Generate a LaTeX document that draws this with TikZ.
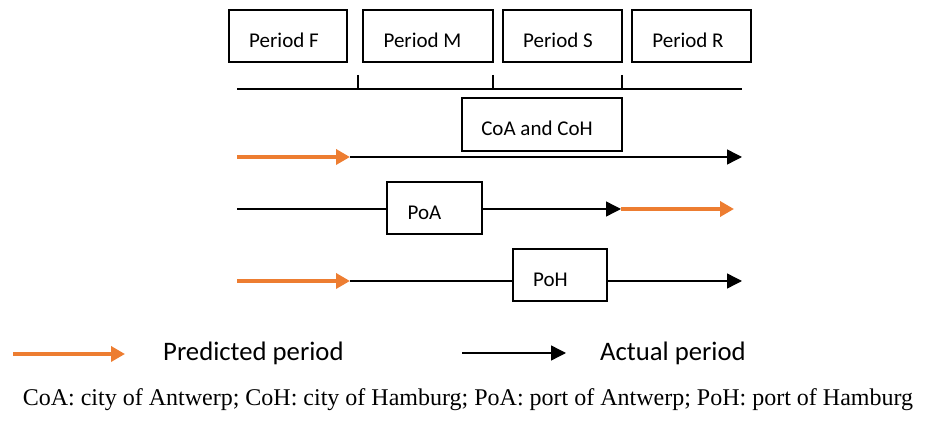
\documentclass[tikz,border=0pt]{standalone}
\usepackage{fontspec}
\setmainfont{Carlito}
\newfontfamily\notefont{Liberation Serif}
\usetikzlibrary{arrows.meta}
\definecolor{predorange}{HTML}{ED7D31}
\begin{document}
\begin{tikzpicture}[x=1pt,y=-1pt,
  box/.style={draw,line width=1.5pt,inner sep=0pt,minimum height=52pt},
  boxtext/.style={anchor=base,inner sep=0pt,font=\fontsize{21}{24}\selectfont},
  act/.style={line width=1.4pt,-{Triangle[length=15pt,width=15pt]}},
  plain/.style={line width=1.4pt},
  pred/.style={draw=predorange,line width=3.5pt,-{Triangle[length=14pt,width=15pt]}},
  lgtext/.style={anchor=west,inner sep=0pt,font=\fontsize{26.7}{30}\selectfont}]
  \useasboundingbox (0,0) rectangle (938,430);

  \node[box,minimum width=118pt] (pF) at (288,36) {};
  \node[boxtext] (pFtxt) at (284,48) {Period F};
  \node[box,minimum width=130pt] (pM) at (428,36) {};
  \node[boxtext] (pMtxt) at (422.5,48) {Period M};
  \node[box,minimum width=119pt] (pS) at (562.5,36) {};
  \node[boxtext] (pStxt) at (558,48) {Period S};
  \node[box,minimum width=119pt] (pR) at (691.5,36) {};
  \node[boxtext] (pRtxt) at (688,48) {Period R};

  \coordinate (tl0) at (237,89);
  \coordinate (tl1) at (742,89);
  \coordinate (k1) at (358,75);
  \coordinate (k2) at (493,75);
  \coordinate (k3) at (622,75);
  \draw[plain] (tl0) -- (tl1);
  \draw[plain] (k1) -- (k1 |- tl0);
  \draw[plain] (k2) -- (k2 |- tl0);
  \draw[plain] (k3) -- (k3 |- tl0);

  \node[box,minimum width=160pt,minimum height=53pt] (coa) at (542,124.5) {};
  \node[boxtext] (coatxt) at (537,136) {CoA and CoH};
  \coordinate (r1a) at (237,157);
  \coordinate (r1b) at (350,157);
  \coordinate (r1c) at (742,157);
  \draw[pred] (r1a) -- (r1b);
  \draw[act] (r1b) -- (r1c);

  \node[box,minimum width=95pt] (poa) at (434.5,208) {};
  \node[boxtext] (poatxt) at (424.5,220) {PoA};
  \coordinate (r2a) at (237,209);
  \coordinate (r2c) at (621,209);
  \coordinate (r2d) at (734,209);
  \draw[plain] (r2a) -- (r2a -| poa.west);
  \draw[act] (r2a -| poa.east) -- (r2c);
  \draw[pred] (r2c) -- (r2d);

  \node[box,minimum width=94pt] (poh) at (560,275) {};
  \node[boxtext] (pohtxt) at (550.5,287) {PoH};
  \coordinate (r3a) at (237,281);
  \coordinate (r3b) at (350,281);
  \coordinate (r3c) at (742,281);
  \draw[pred] (r3a) -- (r3b);
  \draw[plain] (r3b) -- (r3b -| poh.west);
  \draw[act] (r3c -| poh.east) -- (r3c);

  % legend
  \coordinate (lg1) at (13,354);
  \coordinate (lg2) at (125,354);
  \coordinate (lg3) at (462,353);
  \coordinate (lg4) at (566,353);
  \draw[pred] (lg1) -- (lg2);
  \node[lgtext] (lpred) at (163,353) {Predicted period};
  \draw[act] (lg3) -- (lg4);
  \node[lgtext] (lact) at (600,353) {Actual period};

  \node[inner sep=0pt,font=\notefont\fontsize{24}{28}\selectfont] (note) at (468,400)
    {CoA: city of Antwerp; CoH: city of Hamburg; PoA: port of Antwerp; PoH: port of Hamburg};
\end{tikzpicture}
\end{document}
